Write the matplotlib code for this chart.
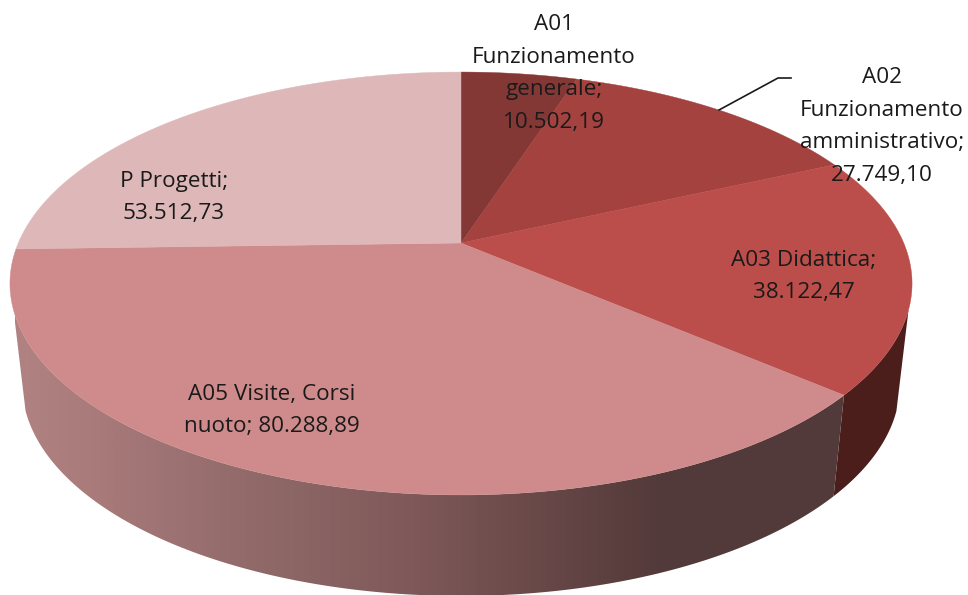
import numpy as np
import matplotlib
matplotlib.use("Agg")
import matplotlib.pyplot as plt
from matplotlib.patches import Polygon
from matplotlib.colors import LinearSegmentedColormap

categories = ["A01 Funzionamento generale", "A02 Funzionamento amministrativo",
              "A03 Didattica", "A05 Visite, Corsi nuoto", "P Progetti"]
values = [10502.19, 27749.10, 38122.47, 80288.89, 53512.73]
label_texts = ["A01\nFunzionamento\ngenerale;\n10.502,19",
               "A02\nFunzionamento\namministrativo;\n27.749,10",
               "A03 Didattica;\n38.122,47",
               "A05 Visite, Corsi\nnuoto; 80.288,89",
               "P Progetti;\n53.512,73"]
colors = ["#843836", "#A3423F", "#BB4D4A", "#CF8B8B", "#DEB8B8"]
label_pos = [(554, 71), (882, 124), (804, 274), (272, 408), (174, 195)]

CX, CY = 461, 243
A, B, K = 203.7, 442.7, 0.1915
DEPTH, SHRINK = 101, 0.973
LINE_STEP = 32.7


def rim(theta, lower=False):
    u, v = np.sin(theta), np.cos(theta)
    d = 1 + K * v
    x = B * u / d
    y = -A * v / d
    if lower:
        return CX + SHRINK * x, CY + y + DEPTH
    return CX + x, CY + y


fig = plt.figure(figsize=(9.68, 5.95), dpi=100)
ax = fig.add_axes([0, 0, 1, 1])
ax.set_xlim(0, 968)
ax.set_ylim(595, 0)
ax.axis("off")

edges = np.cumsum([0] + values) / sum(values) * 2 * np.pi
SIL_R, SIL_L = np.radians(108), np.radians(252)


def side_poly(t0, t1):
    t = np.linspace(t0, t1, 200)
    xt, yt = rim(t)
    xb, yb = rim(t[::-1], True)
    return np.column_stack([np.r_[xt, xb], np.r_[yt, yb]])


# side of A03
ax.add_patch(Polygon(side_poly(SIL_R, edges[3]), closed=True, fc="#4B1E1C", ec="none", zorder=1))

# side of A05, gradient from left to right
clip = Polygon(side_poly(edges[3], SIL_L), closed=True, fc="none", ec="none", transform=ax.transData)
ax.add_patch(clip)
stops = [(0.0, "#B08282"), (0.10, "#A87A7A"), (0.30, "#8F6868"), (0.47, "#805A5A"),
         (0.65, "#664646"), (0.78, "#533A3A"), (1.0, "#523A3A")]
cmap = LinearSegmentedColormap.from_list("side", stops)
img = ax.imshow(np.linspace(0, 1, 256)[None, :], cmap=cmap, extent=(15, 845, 600, 240),
                aspect="auto", zorder=2, interpolation="bilinear")
img.set_clip_path(clip)
ax.set_xlim(0, 968)
ax.set_ylim(595, 0)

# top surface
for i, c in enumerate(colors):
    t = np.linspace(edges[i], edges[i + 1], 200)
    x, y = rim(t)
    pts = np.column_stack([np.r_[CX, x], np.r_[CY, y]])
    ax.add_patch(Polygon(pts, closed=True, fc=c, ec=c, lw=0.3, zorder=3))

# leader line of A02
ax.plot([719, 778, 791], [110, 78, 78], color="#1A1A1A", lw=1.2, zorder=4)

for s, (x, y) in zip(label_texts, label_pos):
    lines = s.split("\n")
    for j, line in enumerate(lines):
        ax.text(x, y + (j - (len(lines) - 1) / 2) * LINE_STEP + 8, line, ha="center", va="baseline",
                family="Open Sans", fontsize=16.2, color="#1A1A1A", zorder=5)

fig.savefig("out.png", dpi=100)
